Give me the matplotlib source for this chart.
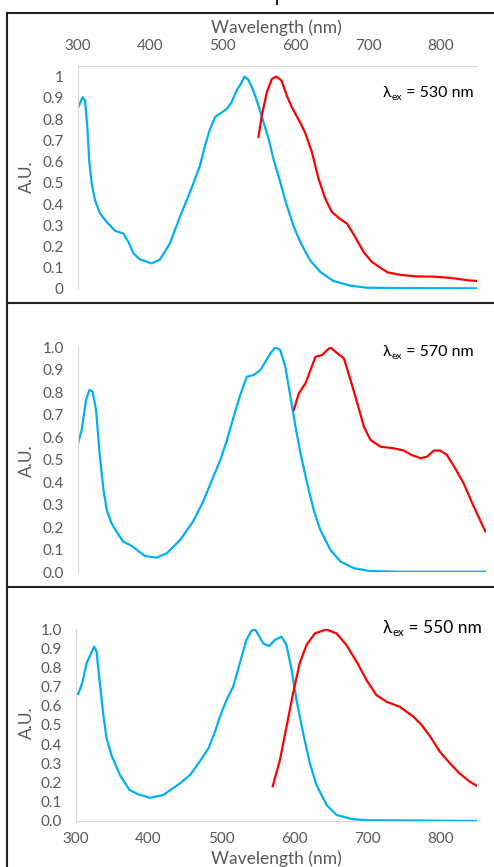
import matplotlib
matplotlib.use("Agg")
import matplotlib.pyplot as plt
from matplotlib.lines import Line2D
from matplotlib.transforms import offset_copy

# --- data ---
# top panel (lambda_ex = 530 nm)
top_abs_nm = [300, 307, 310.3, 313.5, 316, 319.5, 324, 331, 340, 351.6, 363, 370, 377, 386, 402, 413.6, 427,
              441, 456, 468.7, 475.6, 482.5, 489.4, 496, 505.5, 512, 519, 524.8, 529.8, 535, 542, 549, 556,
              563, 569.7, 579, 588, 597, 606.5, 620, 634, 652, 675, 698, 745, 850]
top_abs = [0.848, 0.903, 0.887, 0.762, 0.606, 0.496, 0.418, 0.355, 0.316, 0.274, 0.261, 0.222, 0.167, 0.139,
           0.12, 0.139, 0.214, 0.34, 0.466, 0.582, 0.676, 0.754, 0.809, 0.825, 0.848, 0.879, 0.934, 0.966,
           1.0, 0.986, 0.934, 0.864, 0.786, 0.707, 0.613, 0.504, 0.394, 0.3, 0.222, 0.136, 0.081, 0.038,
           0.016, 0.006, 0.004, 0.003]
top_em_nm = [549, 553.7, 560.6, 567.5, 574, 581, 588, 595, 604, 613, 622.6, 631.7, 641, 650, 661.6, 671, 682,
             693.7, 705, 716.7, 727, 745, 768, 791, 814, 837, 850]
top_em = [0.715, 0.817, 0.926, 0.989, 1.0, 0.981, 0.911, 0.856, 0.8, 0.739, 0.645, 0.52, 0.426, 0.363, 0.329,
          0.308, 0.246, 0.175, 0.128, 0.1, 0.078, 0.066, 0.059, 0.058, 0.052, 0.041, 0.0375]

# middle panel (lambda_ex = 570 nm)
mid_abs_nm = [300, 305, 311, 315.6, 320, 324.8, 330, 335, 339.5, 346, 353, 362, 374, 381, 392, 408, 422, 440.5,
              458, 472, 486, 495.6, 504.8, 514, 523, 532, 541.5, 550.7, 557.6, 564.5, 571, 578, 585, 592, 599,
              605.8, 615, 624, 633, 647, 661, 679, 702, 743, 861]
mid_abs = [0.573, 0.632, 0.766, 0.81, 0.803, 0.721, 0.514, 0.366, 0.277, 0.218, 0.18, 0.136, 0.117, 0.099,
           0.072, 0.065, 0.084, 0.144, 0.225, 0.314, 0.425, 0.499, 0.588, 0.692, 0.788, 0.869, 0.877, 0.899,
           0.936, 0.973, 1.0, 0.988, 0.914, 0.78, 0.647, 0.529, 0.395, 0.277, 0.188, 0.099, 0.047, 0.018,
           0.005, 0.002, 0.002]
mid_em_nm = [596.6, 603.5, 612.7, 619.6, 626.4, 635.7, 642.6, 647, 654, 665.5, 674.6, 684, 693, 702, 716, 734,
             748, 758, 771, 780, 789, 798, 807, 817, 830, 844, 860]
mid_em = [0.721, 0.795, 0.84, 0.899, 0.958, 0.966, 0.988, 1.0, 0.98, 0.951, 0.855, 0.751, 0.647, 0.588, 0.558,
          0.551, 0.541, 0.522, 0.507, 0.514, 0.541, 0.541, 0.522, 0.47, 0.396, 0.292, 0.181]

# bottom panel (lambda_ex = 550 nm)
bot_abs_nm = [299, 303.6, 309.6, 315, 320.5, 325.5, 328.8, 333, 338, 342.5, 349, 360.7, 374, 385.8, 401.8, 420,
              443, 457, 470, 482, 491, 497.7, 506.8, 516, 525, 534, 541, 545.7, 548, 557, 565, 573, 582, 589,
              596, 602.7, 611.8, 621, 630, 644, 657.5, 680, 700, 850]
bot_abs = [0.665, 0.66, 0.726, 0.821, 0.868, 0.908, 0.882, 0.726, 0.552, 0.43, 0.344, 0.24, 0.161, 0.139,
           0.121, 0.135, 0.196, 0.24, 0.309, 0.378, 0.465, 0.543, 0.63, 0.7, 0.821, 0.943, 0.991, 0.998,
           0.986, 0.925, 0.911, 0.943, 0.96, 0.917, 0.786, 0.63, 0.457, 0.3, 0.1875, 0.083, 0.031, 0.009,
           0.004, 0.0]
bot_em_nm = [570, 580, 589, 598, 607, 616.4, 627.8, 643.8, 657.5, 671, 685, 698.6, 712, 726, 744, 763, 774,
             786, 799, 813, 826, 840, 850]
bot_em = [0.179, 0.318, 0.491, 0.665, 0.821, 0.917, 0.977, 0.998, 0.977, 0.917, 0.83, 0.734, 0.656, 0.621,
          0.595, 0.543, 0.5, 0.439, 0.361, 0.3, 0.248, 0.205, 0.182]

x_ticks = [300, 400, 500, 600, 700, 800]
y_ticks = [0, 0.1, 0.2, 0.3, 0.4, 0.5, 0.6, 0.7, 0.8, 0.9, 1.0]
ex_labels = ["530", "570", "550"]

FONT = ["Lato", "DejaVu Sans"]
plt.rcParams['font.family'] = FONT
GREY = "#595959"
SPINE = "#d9d9d9"
BLUE = "#00b0f0"
RED = "#ff0000"

fig = plt.figure(figsize=(4.94, 8.67), dpi=100)

ax1 = fig.add_axes([0.157, 0.6667, 0.8086, 0.2572])
ax2 = fig.add_axes([0.158, 0.3400, 0.826, 0.2594])
ax3 = fig.add_axes([0.153, 0.0531, 0.8126, 0.2214])

panels = [(ax1, top_abs_nm, top_abs, top_em_nm, top_em, 850, 1.05),
          (ax2, mid_abs_nm, mid_abs, mid_em_nm, mid_em, 861, 1.0),
          (ax3, bot_abs_nm, bot_abs, bot_em_nm, bot_em, 850, 1.0)]

for ax, anm, a, enm, e, xmax, ymax in panels:
    ax.plot(anm, a, color=BLUE, lw=1.6, solid_joinstyle='round', solid_capstyle='round')
    ax.plot(enm, e, color=RED, lw=1.6, solid_joinstyle='round', solid_capstyle='round')
    ax.set_xlim(300, xmax)
    ax.set_ylim(0, ymax)
    ax.set_yticks(y_ticks)
    for s in ax.spines.values():
        s.set_visible(False)
    ax.spines['left'].set_visible(True)
    ax.spines['left'].set_color(SPINE)
    ax.tick_params(axis='both', length=0, labelsize=11, colors=GREY, pad=10)
    ax.patch.set_alpha(0)

ax1.set_yticklabels(["0", "0.1", "0.2", "0.3", "0.4", "0.5", "0.6", "0.7", "0.8", "0.9", "1"])
ax2.set_yticklabels(["%.1f" % v for v in y_ticks])
ax3.set_yticklabels(["%.1f" % v for v in y_ticks])

ax1.xaxis.tick_top()
ax1.set_xticks(x_ticks)
ax1.spines['top'].set_visible(True)
ax1.spines['top'].set_color(SPINE)
ax1.tick_params(axis='x', pad=9)

ax2.set_xticks([])

ax3.set_xticks(x_ticks)
ax3.spines['bottom'].set_visible(True)
ax3.spines['bottom'].set_color(SPINE)
ax3.tick_params(axis='x', pad=8)

# axis titles
fig.text(0.559, 0.968, "Wavelength (nm)", ha='center', va='center', fontsize=12.5, color=GREY)
fig.text(0.559, 0.010, "Wavelength (nm)", ha='center', va='center', fontsize=12.5, color=GREY)
for yc in [0.796, 0.469, 0.167]:
    fig.text(0.055, yc, "A.U.", rotation=90, ha='center', va='center', fontsize=12.5, color=GREY)

# lambda_ex annotations
for (yc, lab, fs) in zip([0.893, 0.594, 0.276], ex_labels, [11.5, 11.5, 12.5]):
    x0 = 0.775
    fig.text(x0, yc, "λ", ha='left', va='center', fontsize=fs, color='black')
    tr = offset_copy(fig.transFigure, fig=fig, x=fs * 0.55, y=-fs * 0.3, units='points')
    fig.text(x0, yc, "ex", ha='left', va='center', fontsize=fs * 0.65, color='black', transform=tr)
    tr2 = offset_copy(fig.transFigure, fig=fig, x=fs * 1.22, y=0, units='points')
    fig.text(x0, yc, " = " + lab + " nm", ha='left', va='center', fontsize=fs, color='black', transform=tr2)

# panel frames
W, H = 494.0, 867.0
def fline(x0, y0, x1, y1):
    fig.add_artist(Line2D([x0 / W, x1 / W], [1 - y0 / H, 1 - y1 / H], color='#222222', lw=1.5,
                          transform=fig.transFigure))

fline(7, 13, W, 13)
fline(7, 303, W, 303)
fline(7, 587, W, 587)
fline(7, 13, 7, H)
fline(277, 0, 277, 4)

fig.savefig("out.png", dpi=100)
